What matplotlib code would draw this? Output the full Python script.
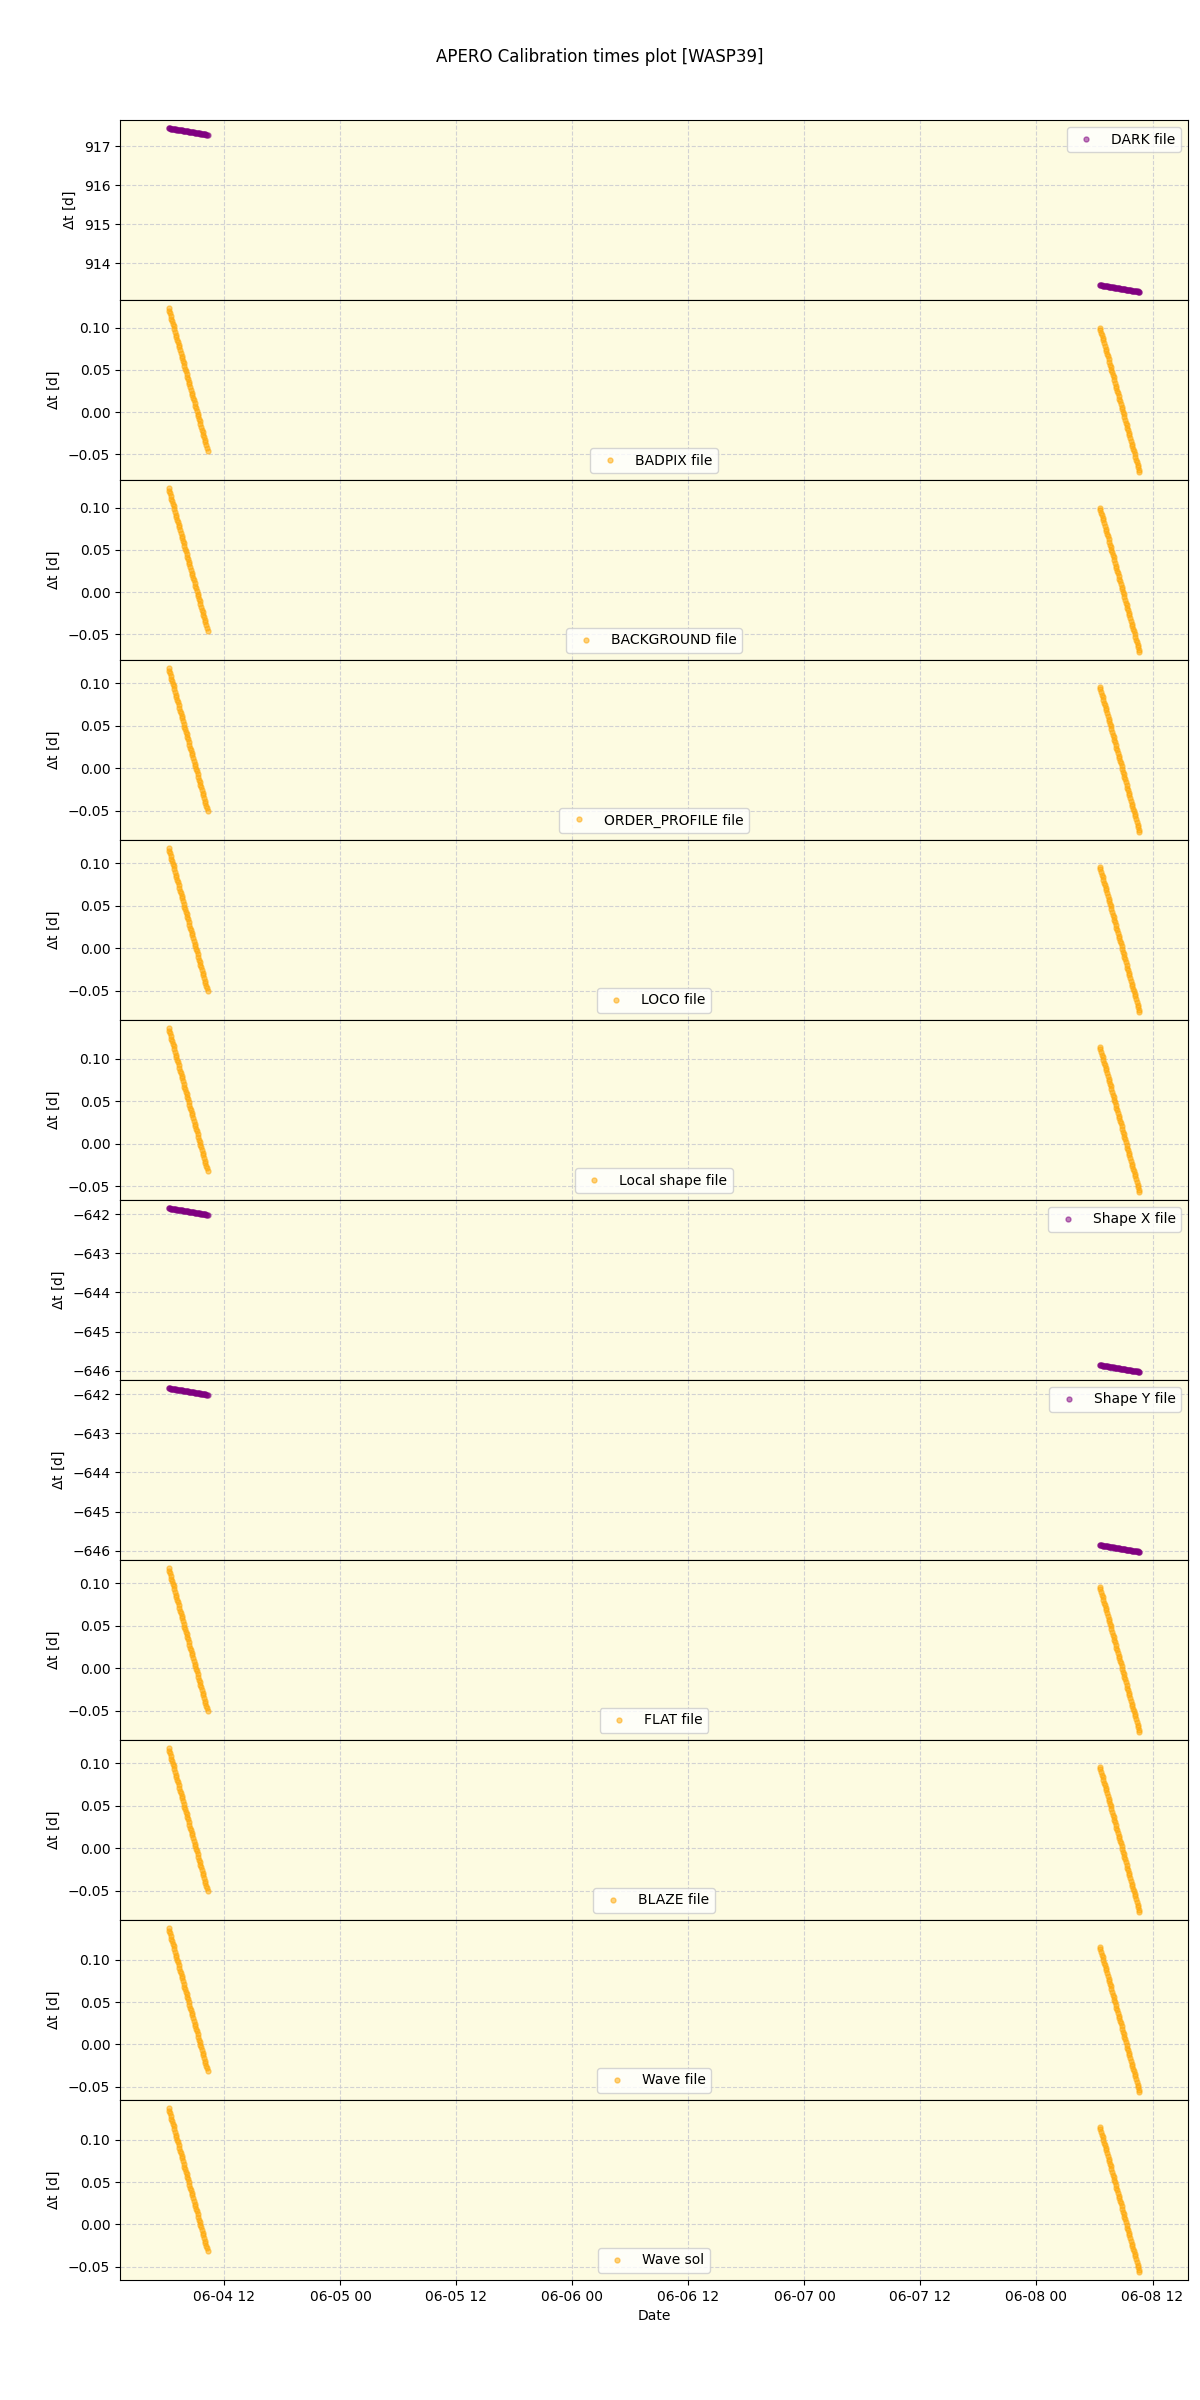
import numpy as np
import pandas as pd
import matplotlib
matplotlib.use('Agg')
import matplotlib.pyplot as plt
import matplotlib.dates as mdates

# observation times (UT) of the two WASP39 nights
night1_day = '2023-06-04'
night1_times = ['06:13', '06:17', '06:22', '06:26', '06:31', '06:35', '06:40', '06:44', '06:49',
                '06:53', '06:58', '07:02', '07:07', '07:11', '07:16', '07:20', '07:25', '07:29',
                '07:34', '07:38', '07:43', '07:47', '07:52', '07:56', '08:01', '08:05', '08:10',
                '08:14', '08:19', '08:23', '08:28', '08:32', '08:37', '08:41', '08:46', '08:50',
                '08:55', '08:59', '09:04', '09:08', '09:13', '09:17', '09:22', '09:26', '09:31',
                '09:35', '09:40', '09:44', '09:49', '09:53', '09:58', '10:02', '10:07', '10:11',
                '10:16']
night2_day = '2023-06-08'
night2_times = ['06:33', '06:37', '06:42', '06:46', '06:51', '06:55', '07:00', '07:04', '07:09',
                '07:13', '07:18', '07:22', '07:27', '07:31', '07:36', '07:40', '07:45', '07:49',
                '07:54', '07:58', '08:03', '08:07', '08:12', '08:16', '08:21', '08:25', '08:30',
                '08:34', '08:39', '08:43', '08:48', '08:52', '08:57', '09:01', '09:06', '09:10',
                '09:15', '09:19', '09:24', '09:28', '09:33', '09:37', '09:42', '09:46', '09:51',
                '09:55', '10:00', '10:04', '10:09', '10:13', '10:18', '10:22', '10:27', '10:31',
                '10:36', '10:39']

# calibration files and delta-t [d] at the first exposure of each night
cal_labels = ['DARK file', 'BADPIX file', 'BACKGROUND file', 'ORDER_PROFILE file', 'LOCO file',
              'Local shape file', 'Shape X file', 'Shape Y file', 'FLAT file', 'BLAZE file',
              'Wave file', 'Wave sol']
dt_night1 = [917.458, 0.123, 0.123, 0.118, 0.118, 0.136, -641.846, -641.846,
             0.118, 0.118, 0.137, 0.137]
dt_night2 = [913.445, 0.100, 0.100, 0.096, 0.096, 0.114, -645.86, -645.86,
             0.096, 0.096, 0.115, 0.115]
cal_colors = ['purple', 'orange', 'orange', 'orange', 'orange', 'orange', 'purple', 'purple',
              'orange', 'orange', 'orange', 'orange']

t1 = pd.to_datetime([night1_day + ' ' + t for t in night1_times])
t2 = pd.to_datetime([night2_day + ' ' + t for t in night2_times])

fig, axes = plt.subplots(len(cal_labels), 1, figsize=(12, 24), sharex=True)
fig.subplots_adjust(left=0.1, right=0.99, top=0.95, bottom=0.05, hspace=0)

for ax, label, d1, d2, col in zip(axes, cal_labels, dt_night1, dt_night2, cal_colors):
    # delta t = t_cal - t_obs, so it drops by the elapsed time during the night
    y1 = d1 - (t1 - t1[0]).total_seconds() / 86400.0
    y2 = d2 - (t2 - t2[0]).total_seconds() / 86400.0
    times = np.concatenate([t1.values, t2.values])
    vals = np.concatenate([y1, y2])
    ax.plot(times, vals, 'o', ms=3.6, color=col, alpha=0.5, label=label)
    ax.set_facecolor('#fdfbe1')
    ax.grid(True, linestyle='--', color='#c8c8d0', alpha=0.8)
    ax.set_ylabel(r'$\Delta$t [d]')
    ax.legend(loc='best')

axes[-1].xaxis.set_major_locator(mdates.HourLocator(byhour=[0, 12]))
axes[-1].xaxis.set_major_formatter(mdates.DateFormatter('%m-%d %H'))
axes[-1].set_xlabel('Date')
fig.suptitle('APERO Calibration times plot [WASP39]')

plt.savefig('out.png', dpi=100)
